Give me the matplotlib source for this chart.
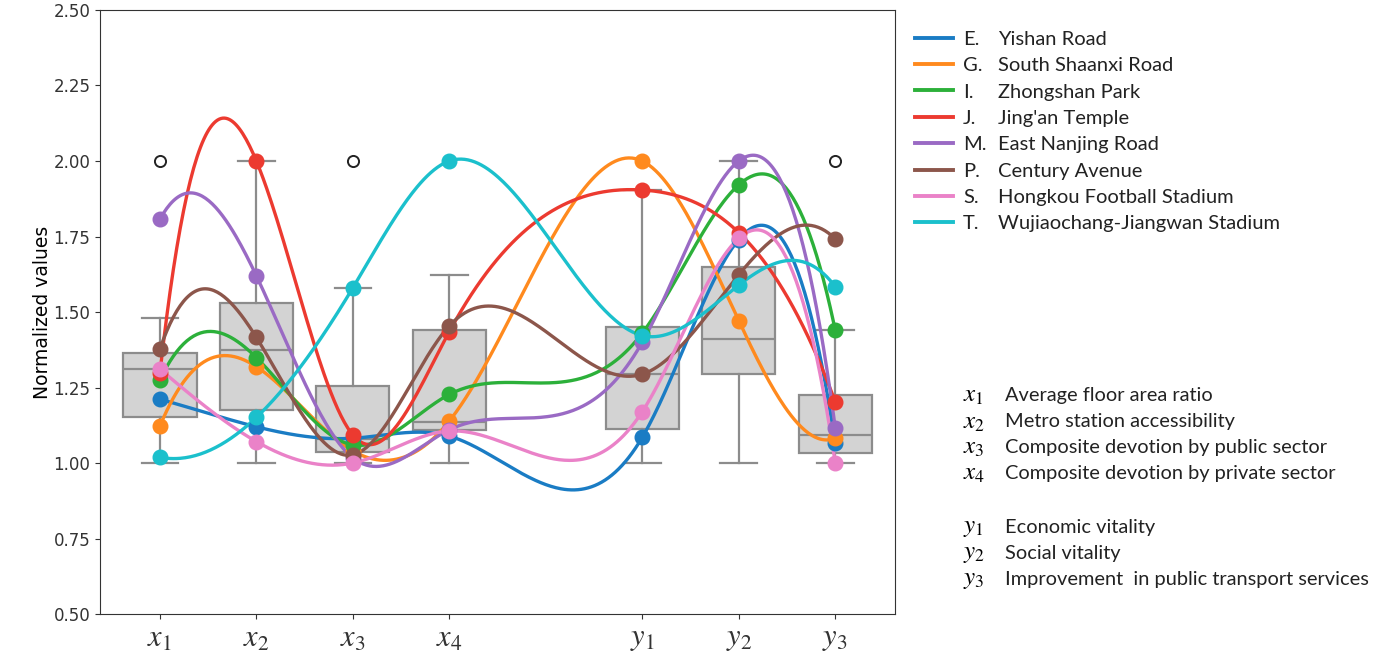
import numpy as np
import matplotlib
matplotlib.use("Agg")
import matplotlib.pyplot as plt
from matplotlib.lines import Line2D

# --------------------------------------------------------------------------- #
# Data
# --------------------------------------------------------------------------- #
positions = [1, 2, 3, 4, 6, 7, 8]
tick_labels = ["$x_1$", "$x_2$", "$x_3$", "$x_4$", "$y_1$", "$y_2$", "$y_3$"]

# box statistics per variable: whislo, q1, med, q3, whishi, fliers
box_whislo = [1.0, 1.0, 1.0, 1.0, 1.0, 1.0, 1.0]
box_q1 = [1.151, 1.175, 1.037, 1.109, 1.112, 1.295, 1.032]
box_med = [1.311, 1.374, 1.078, 1.137, 1.294, 1.411, 1.093]
box_q3 = [1.363, 1.531, 1.256, 1.440, 1.449, 1.648, 1.225]
box_whishi = [1.479, 2.0, 1.580, 1.623, 1.904, 2.0, 1.440]
box_fliers = [[2.0], [], [2.0], [], [], [], [2.0]]

station_letters = ["E.", "G.", "I.", "J.", "M.", "P.", "S.", "T."]
station_names = ["Yishan Road", "South Shaanxi Road", "Zhongshan Park",
                 "Jing'an Temple", "East Nanjing Road", "Century Avenue",
                 "Hongkou Football Stadium", "Wujiaochang-Jiangwan Stadium"]

yishan = [1.211, 1.120, 1.082, 1.089, 1.085, 1.740, 1.065]
south_shaanxi = [1.122, 1.319, 1.040, 1.139, 2.000, 1.471, 1.082]
zhongshan = [1.275, 1.349, 1.060, 1.227, 1.430, 1.921, 1.440]
jingan = [1.297, 2.000, 1.093, 1.435, 1.904, 1.763, 1.203]
east_nanjing = [1.807, 1.620, 1.017, 1.110, 1.400, 2.000, 1.117]
century = [1.377, 1.416, 1.027, 1.454, 1.294, 1.623, 1.742]
hongkou = [1.311, 1.071, 1.000, 1.106, 1.170, 1.744, 1.000]
wujiaochang = [1.019, 1.151, 1.580, 2.000, 1.422, 1.589, 1.584]
series = [yishan, south_shaanxi, zhongshan, jingan, east_nanjing,
          century, hongkou, wujiaochang]
colors = ["#1a7cc4", "#ff8a1e", "#2cb03a", "#ec3a30", "#9a6ac4",
          "#8c564b", "#ea82c8", "#1bc0cc"]

var_symbols = ["$x_1$", "$x_2$", "$x_3$", "$x_4$", "$y_1$", "$y_2$", "$y_3$"]
var_names = ["Average floor area ratio", "Metro station accessibility",
             "Composite devotion by public sector",
             "Composite devotion by private sector",
             "Economic vitality", "Social vitality",
             "Improvement  in public transport services"]


# --------------------------------------------------------------------------- #
# Not-a-knot cubic spline (for the smooth connecting curves)
# --------------------------------------------------------------------------- #
def cubic_spline(x, y, xs):
    x = np.asarray(x, float)
    y = np.asarray(y, float)
    n = len(x)
    h = np.diff(x)
    A = np.zeros((n, n))
    b = np.zeros(n)
    A[0, :3] = [-h[1], h[0] + h[1], -h[0]]
    A[-1, -3:] = [-h[-1], h[-2] + h[-1], -h[-2]]
    for i in range(1, n - 1):
        A[i, i - 1] = h[i - 1]
        A[i, i] = 2 * (h[i - 1] + h[i])
        A[i, i + 1] = h[i]
        b[i] = 6 * ((y[i + 1] - y[i]) / h[i] - (y[i] - y[i - 1]) / h[i - 1])
    M = np.linalg.solve(A, b)
    idx = np.clip(np.searchsorted(x, xs) - 1, 0, n - 2)
    x0, x1 = x[idx], x[idx + 1]
    hh = x1 - x0
    return (M[idx] * (x1 - xs) ** 3 / (6 * hh)
            + M[idx + 1] * (xs - x0) ** 3 / (6 * hh)
            + (y[idx] / hh - M[idx] * hh / 6) * (x1 - xs)
            + (y[idx + 1] / hh - M[idx + 1] * hh / 6) * (xs - x0))


plt.rcParams["mathtext.fontset"] = "stix"

fig = plt.figure(figsize=(13.84, 6.53), dpi=100)
ax = fig.add_axes([0.0723, 0.0597, 0.5744, 0.925])

stats = []
for i in range(len(positions)):
    stats.append(dict(whislo=box_whislo[i], q1=box_q1[i], med=box_med[i],
                      q3=box_q3[i], whishi=box_whishi[i], fliers=box_fliers[i]))

gray = "#8c8c8c"
ax.bxp(stats, positions=positions, widths=0.76, patch_artist=True,
       boxprops=dict(facecolor="#d3d3d3", edgecolor=gray, linewidth=1.6),
       medianprops=dict(color=gray, linewidth=1.6),
       whiskerprops=dict(color=gray, linewidth=1.6),
       capprops=dict(color=gray, linewidth=1.6),
       flierprops=dict(marker="o", markerfacecolor="white",
                       markeredgecolor="#222222", markersize=8,
                       markeredgewidth=1.4),
       zorder=1)

xs = np.linspace(positions[0], positions[-1], 400)
for vals, c in zip(series, colors):
    ax.plot(xs, cubic_spline(positions, vals, xs), color=c, lw=2.4, zorder=3)
    ax.plot(positions, vals, "o", color=c, ms=10.5, zorder=4)

ax.set_xlim(0.38, 8.62)
ax.set_ylim(0.5, 2.5)
ax.set_yticks(np.arange(0.5, 2.51, 0.25))
ax.set_yticklabels([f"{v:.2f}" for v in np.arange(0.5, 2.51, 0.25)])
ax.set_xticks(positions)
ax.set_xticklabels(tick_labels, fontsize=22)
ax.tick_params(axis="y", labelsize=12, colors="#333333")
ax.tick_params(axis="x", colors="#333333", pad=4)
for sp in ax.spines.values():
    sp.set_color("#333333")
ax.set_ylabel("Normalized values", fontsize=13.5)
ax.yaxis.set_label_coords(-0.06, 0.5)

# Legend: handles + letters, and a second column with station names
handles = [Line2D([], [], color=c, lw=2.8) for c in colors]
leg_kw = dict(frameon=False, labelspacing=0.46, loc="upper left",
              borderaxespad=0, borderpad=0,
              prop=dict(family="Lato", size=14.5))
fig.legend(handles, station_letters, bbox_to_anchor=(0.661, 0.953),
           handlelength=1.9, handletextpad=0.5, labelcolor="#222222", **leg_kw)
blank = [Line2D([], [], alpha=0) for _ in colors]
fig.legend(blank, station_names, bbox_to_anchor=(0.721, 0.953),
           handlelength=0, handletextpad=0, labelcolor="#222222", **leg_kw)

# Variable descriptions
row_y = [395, 422, 447, 473, 527, 553, 579]
for sym, name, py in zip(var_symbols, var_names, row_y):
    yf = 1 - py / 653
    fig.text(963 / 1384, yf, sym, fontsize=18, va="center", ha="left")
    fig.text(1005 / 1384, yf, name, fontsize=14.4, family="Lato",
             va="center", ha="left", color="#222222")

fig.savefig("out.png", dpi=100)
